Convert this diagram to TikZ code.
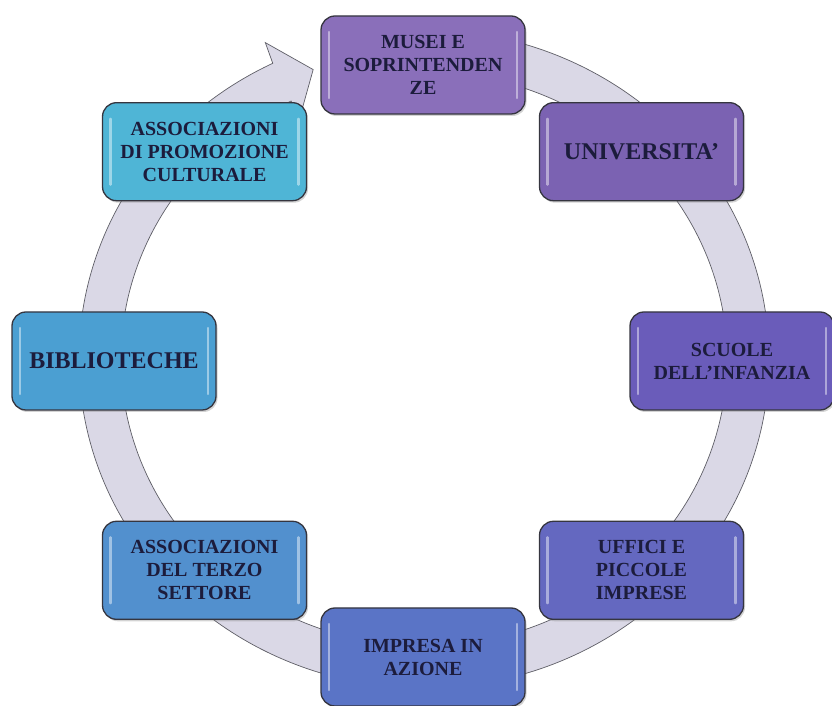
\documentclass[tikz,border=0pt]{standalone}
\usepackage{fontspec}
\setmainfont{Liberation Serif}
\usetikzlibrary{shadows}
\definecolor{ringfill}{HTML}{DAD8E6}
\definecolor{ringline}{HTML}{5E5E66}
\definecolor{boxline}{HTML}{35353F}
\definecolor{boxtext}{HTML}{1C1C3C}
\definecolor{cmusei}{HTML}{8A6FBA}
\definecolor{cuniv}{HTML}{7B62B2}
\definecolor{cscuole}{HTML}{6A5CBA}
\definecolor{cuffici}{HTML}{6468C0}
\definecolor{cimpresa}{HTML}{5A74C6}
\definecolor{cterzo}{HTML}{5290CE}
\definecolor{cbiblio}{HTML}{4B9FD2}
\definecolor{cpromo}{HTML}{4FB5D6}
\tikzset{
    ring/.style = {fill=ringfill,draw=ringline,line width=0.7pt},
    gloss/.style = {white,opacity=.45,line width=2.2pt,line cap=round},
    stage/.style = {shape=rectangle,rounded corners=14pt,draw=boxline,line width=1.3pt,
        minimum width=204pt,minimum height=98pt,align=center,text=boxtext,
        font=\fontsize{20}{23}\selectfont\bfseries,
        drop shadow={shadow xshift=1.5pt,shadow yshift=-2pt,opacity=.35},
        path picture={
            \draw[gloss] ([shift={(8pt,16pt)}]path picture bounding box.south west)
                -- ([shift={(8pt,-16pt)}]path picture bounding box.north west);
            \draw[gloss] ([shift={(-8pt,16pt)}]path picture bounding box.south east)
                -- ([shift={(-8pt,-16pt)}]path picture bounding box.north east);
        }},
    bigstage/.style = {stage,font=\fontsize{24}{27}\selectfont\bfseries}
}

\begin{document}
\begin{tikzpicture}[x=1pt,y=1pt]
        \useasboundingbox (0,0) rectangle (832,706);
        % Ring
        \begin{scope}[shift={(424,347)}]
            \draw[ring] (95:345 and 329)
                arc[start angle=95,end angle=-244,x radius=345,y radius=329]
                -- (-244:362 and 352) -- (-250:324 and 308) -- (-244:286 and 264)
                -- (-244:303 and 287)
                arc[start angle=-244,end angle=95,x radius=303,y radius=287]
                -- cycle;
        \end{scope}
        % Stages
        \coordinate (C) at (423,345);
        \foreach \ang/\name/\kind/\col/\txt in {
            90/musei/stage/cmusei/{MUSEI E\\SOPRINTENDEN\\ZE},
            45/univ/bigstage/cuniv/{UNIVERSITA'},
            0/scuole/stage/cscuole/{SCUOLE\\DELL'INFANZIA},
            -45/uffici/stage/cuffici/{UFFICI E\\PICCOLE\\IMPRESE},
            -90/impresa/stage/cimpresa/{IMPRESA IN\\AZIONE},
            -135/terzo/stage/cterzo/{ASSOCIAZIONI\\DEL TERZO\\SETTORE},
            180/biblio/bigstage/cbiblio/{BIBLIOTECHE},
            135/promo/stage/cpromo/{ASSOCIAZIONI\\DI PROMOZIONE\\CULTURALE}}
            \node[\kind,fill=\col] (\name) at ([shift={(\ang:309 and 296)}]C) {\txt};
    \end{tikzpicture}
\end{document}
